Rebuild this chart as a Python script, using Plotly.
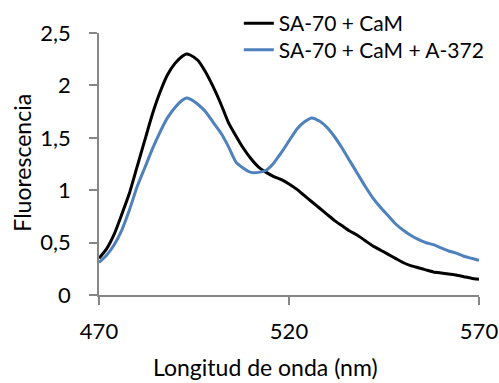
import plotly.graph_objects as go

wavelength = [470, 472, 474, 476, 478, 480, 482, 484, 486, 488, 490, 492, 493, 494, 496, 498,
              500, 502, 504, 506, 508, 510, 512, 514, 516, 518, 520, 522, 524, 526, 528, 530,
              532, 534, 536, 538, 540, 542, 544, 546, 548, 550, 552, 554, 556, 558, 560, 562,
              564, 566, 568, 570]

sa70_cam = [0.35, 0.44, 0.58, 0.77, 0.97, 1.22, 1.47, 1.72, 1.93, 2.10, 2.21, 2.28, 2.30, 2.29, 2.24, 2.13,
            1.99, 1.83, 1.65, 1.52, 1.40, 1.30, 1.22, 1.17, 1.13, 1.10, 1.06, 1.01, 0.95, 0.89, 0.83, 0.77,
            0.71, 0.66, 0.61, 0.57, 0.52, 0.47, 0.43, 0.39, 0.35, 0.31, 0.28, 0.26, 0.24, 0.22, 0.21, 0.20,
            0.19, 0.175, 0.16, 0.15]

sa70_cam_a372 = [0.31, 0.38, 0.48, 0.62, 0.81, 1.03, 1.21, 1.39, 1.55, 1.69, 1.79, 1.86, 1.88, 1.87, 1.82, 1.75,
                 1.65, 1.55, 1.42, 1.27, 1.21, 1.17, 1.17, 1.19, 1.26, 1.36, 1.47, 1.58, 1.65, 1.69, 1.66, 1.60,
                 1.51, 1.40, 1.28, 1.16, 1.04, 0.93, 0.84, 0.76, 0.68, 0.62, 0.57, 0.53, 0.50, 0.48, 0.45, 0.42,
                 0.40, 0.37, 0.35, 0.33]

series_names = ["SA-70 + CaM", "SA-70 + CaM + A-372"]
x_tickvals = [470, 520, 570]
x_ticktext = ["470", "520", "570"]
y_tickvals = [0, 0.5, 1, 1.5, 2, 2.5]
y_ticktext = ["0", "0,5", "1", "1,5", "2", "2,5"]
x_title = "Longitud de onda (nm)"
y_title = "Fluorescencia"

FONT = "Lato"
AXIS_COLOR = "#868686"

fig = go.Figure()
fig.add_trace(go.Scatter(x=wavelength, y=sa70_cam, mode="lines", name=series_names[0],
                         legend="legend",
                         line=dict(color="#000000", width=3, shape="spline", smoothing=0.5)))
fig.add_trace(go.Scatter(x=wavelength, y=sa70_cam_a372, mode="lines", name=series_names[1],
                         legend="legend2",
                         line=dict(color="#4F81BD", width=3, shape="spline", smoothing=0.5)))

leg_common = dict(xanchor="left", yanchor="middle", bgcolor="rgba(0,0,0,0)",
                  font=dict(family=FONT, size=21), itemwidth=30)

fig.update_layout(
    width=499, height=383,
    margin=dict(l=99, r=20, t=33, b=88, autoexpand=False),
    paper_bgcolor="white", plot_bgcolor="white",
    font=dict(family=FONT, size=21, color="#000000"),
    separators=", ",
    showlegend=True,
    legend=dict(x=0.368, y=1.036, **leg_common),
    legend2=dict(x=0.368, y=0.935, **leg_common),
    xaxis=dict(range=[470, 570], tickvals=x_tickvals, ticktext=x_ticktext, automargin=False,
               showgrid=False, zeroline=False, showline=True, linecolor=AXIS_COLOR, linewidth=1.5,
               ticks="outside", ticklen=8, tickcolor=AXIS_COLOR, tickwidth=1.5,
               tickfont=dict(family=FONT, size=22), ticklabelstandoff=8),
    yaxis=dict(range=[0, 2.5], tickvals=y_tickvals, ticktext=y_ticktext, automargin=False,
               showgrid=False, zeroline=False, showline=True, linecolor=AXIS_COLOR, linewidth=1.5,
               ticks="outside", ticklen=8, tickcolor=AXIS_COLOR, tickwidth=1.5,
               tickfont=dict(family=FONT, size=22), ticklabelstandoff=14),
    annotations=[
        dict(text=x_title, xref="paper", yref="paper", x=0.4375, y=-0.276,
             xanchor="center", yanchor="middle", showarrow=False,
             font=dict(family=FONT, size=23)),
        dict(text=y_title, xref="paper", yref="paper", x=-0.202, y=0.506, textangle=-90,
             xanchor="center", yanchor="middle", showarrow=False,
             font=dict(family=FONT, size=23)),
    ],
)

fig.write_html("out.html")
